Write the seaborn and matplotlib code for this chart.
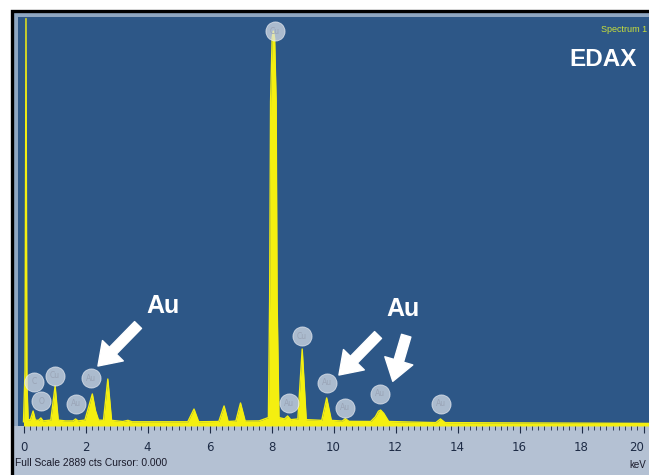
import matplotlib
matplotlib.use("Agg")
import matplotlib.pyplot as plt
import seaborn as sns
import numpy as np
from matplotlib.patches import Rectangle, FancyArrowPatch

# ---------------- data ----------------
spec_keV = [0.00, 0.05, 0.08, 0.11, 0.15, 0.22, 0.31, 0.38, 0.48, 0.56, 0.63,
            0.88, 1.02, 1.12, 1.35, 1.60, 1.68, 1.76, 1.98, 2.12, 2.22, 2.32, 2.42,
            2.58, 2.72, 2.84, 3.20, 3.37, 3.50, 5.30, 5.50, 5.65, 6.30, 6.47, 6.60,
            6.85, 7.00, 7.15, 7.60, 7.90, 7.94, 7.97, 8.02, 8.06, 8.10, 8.15, 8.18, 8.24,
            8.42, 8.52, 8.62, 8.85, 8.99, 9.12, 9.62, 9.78, 9.93, 10.28, 10.38, 10.50,
            11.20, 11.35, 11.45, 11.52, 11.62, 11.78, 13.30, 13.45, 13.60, 20.5]
spec_counts = [30, 400, 2889, 300, 45, 45, 106, 42, 40, 57, 36,
               42, 284, 42, 36, 36, 50, 36, 42, 150, 227, 110, 42,
               40, 333, 40, 32, 40, 30, 30, 120, 30, 32, 142, 32,
               35, 163, 35, 36, 60, 900, 2300, 2750, 2800, 2750, 2300, 900, 60,
               50, 71, 45, 50, 546, 45, 40, 199, 40, 35, 52, 33,
               32, 65, 105, 113, 90, 32, 24, 50, 24, 18]

label_text = ["Cu", "C", "O", "Cu", "Au", "Au", "Au", "Cu", "Au", "Au", "Au", "Au"]
label_keV = [8.11, 0.34, 0.58, 1.02, 1.68, 2.18, 8.56, 8.98, 9.80, 10.37, 11.50, 13.47]
label_counts = [2800, 312, 177, 355, 156, 340, 163, 638, 305, 128, 227, 156]

xticks = [0, 2, 4, 6, 8, 10, 12, 14, 16, 18, 20]

W, H = 649, 475


def fx(px):
    return px / W


def fy(py):
    return 1 - py / H


fig = plt.figure(figsize=(W / 100, H / 100), dpi=100, facecolor="white")

# outer frame / grey strip
bg = fig.add_axes([fx(13), 0, 1 - fx(13), fy(12)])
bg.set_facecolor("#b4c1d3")
bg.set_xticks([]); bg.set_yticks([])
for s in bg.spines.values():
    s.set_visible(False)
bg.add_patch(Rectangle((fx(13), fy(426)), 1.2, fy(12) - fy(426),
                       transform=fig.transFigure, facecolor="#8fa7c2",
                       edgecolor="none", zorder=1))
fig.patches.append(Rectangle((fx(11.5), -0.1), 1.2, fy(10.5) + 0.1,
                             transform=fig.transFigure, fill=False,
                             edgecolor="black", linewidth=2.4, zorder=5))

ax = fig.add_axes([fx(18), fy(426), 1 - fx(18), fy(17) - fy(426)])
ax.set_facecolor("#2d5787")
x0 = 23.5
ppk = 31.0
ax.set_xlim((18 - x0) / ppk, (W - x0) / ppk)
ax.set_ylim(0, 2900)

sns.lineplot(x=spec_keV, y=spec_counts, color="#f4ef10", linewidth=1.0, ax=ax,
             sort=True, estimator=None)
ax.fill_between(spec_keV, 0, spec_counts, color="#f4ef10", linewidth=0)

# element label circles
ax.scatter(label_keV, label_counts, s=190, color="#dde2ea", alpha=0.72,
           edgecolors="#eef1f6", linewidths=0.6, zorder=4)
for t, xk, yc in zip(label_text, label_keV, label_counts):
    ax.text(xk, yc, t, ha="center", va="center", fontsize=5.5,
            color="#9aa4b6", zorder=5)

ax.set_xticks(xticks)
ax.set_xticklabels([str(v) for v in xticks])
ax.set_xticks(np.arange(0, 20.01, 0.2), minor=True)
ax.tick_params(axis="x", which="major", direction="out", length=5, width=0.8,
               color="#1d2b45", labelsize=8.5, labelcolor="#1d2b45", pad=6)
ax.tick_params(axis="x", which="minor", direction="out", length=3, width=0.6,
               color="#1d2b45")
ax.get_xticklabels()[-1].set_horizontalalignment("right")
ax.set_yticks([])
ax.set_xlabel(""); ax.set_ylabel("")
for s in ax.spines.values():
    s.set_visible(False)

# annotations
fig.text(fx(163), fy(306), "Au", ha="center", va="center", fontsize=18,
         fontweight="bold", color="white", family=["Liberation Sans", "DejaVu Sans"])
fig.text(fx(403), fy(309), "Au", ha="center", va="center", fontsize=18,
         fontweight="bold", color="white", family=["Liberation Sans", "DejaVu Sans"])
fig.text(fx(603), fy(59), "EDAX", ha="center", va="center", fontsize=17.5,
         fontweight="bold", color="white",
         family=["Liberation Sans", "DejaVu Sans"])
fig.text(fx(647), fy(29), "Spectrum 1", ha="right", va="center", fontsize=6.5,
         color="#c9e03a", family=["Liberation Sans", "DejaVu Sans"])
fig.text(fx(15), fy(463), "Full Scale 2889 cts Cursor: 0.000", ha="left", va="center",
         fontsize=7.4, color="#1a1a2a",
         family=["Liberation Sans", "DejaVu Sans"])
fig.text(fx(646), fy(465), "keV", ha="right", va="center", fontsize=7,
         color="#1a1a2a", family=["Liberation Sans", "DejaVu Sans"])

for (x1, y1, x2, y2) in [(140, 323, 96, 368), (380, 333, 337, 377), (407, 333, 392, 384)]:
    arr = FancyArrowPatch((fx(x1), fy(y1)), (fx(x2), fy(y2)), transform=fig.transFigure,
                          arrowstyle="simple,head_width=1.5,head_length=1.1,tail_width=0.5",
                          mutation_scale=14, color="white", zorder=6)
    fig.patches.append(arr)

fig.savefig("out.png", dpi=100, facecolor="white")
